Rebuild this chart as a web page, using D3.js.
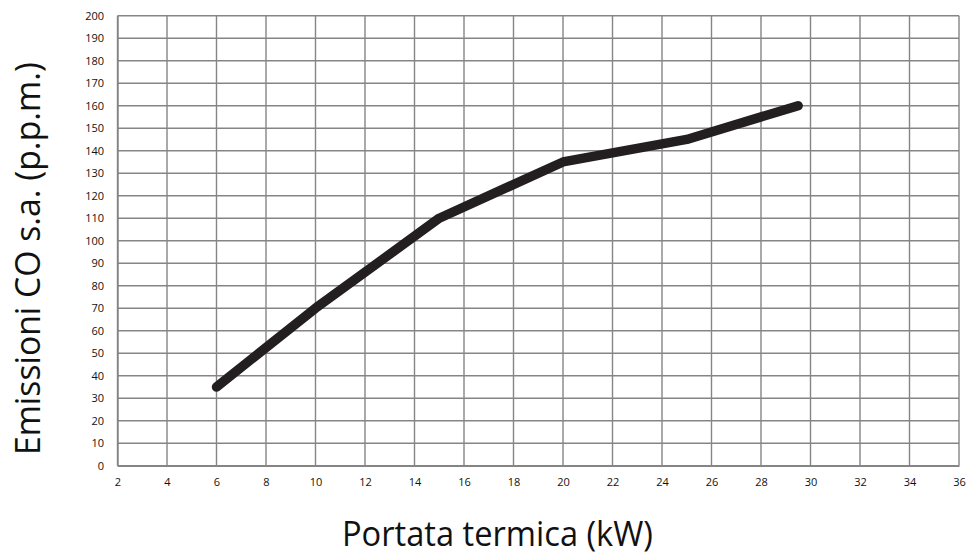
<!DOCTYPE html>
<html>
<head>
<meta charset="utf-8">
<script src="https://cdn.jsdelivr.net/npm/d3@7"></script>
<style>
  html, body { margin: 0; padding: 0; background: #fff; }
  svg { display: block; }
  text { font-family: "Open Sans", "Noto Sans", sans-serif; fill: #111; }
</style>
</head>
<body>
<svg id="chart" width="967" height="556"></svg>
<script>
// CO emissions versus thermal output
const portata = [6, 10, 15, 20, 25, 29.5];
const emissioni = [35, 70, 110, 135, 145, 160];
const xTicks = [2, 4, 6, 8, 10, 12, 14, 16, 18, 20, 22, 24, 26, 28, 30, 32, 34, 36];
const yTicks = [0, 10, 20, 30, 40, 50, 60, 70, 80, 90, 100, 110, 120, 130, 140, 150, 160, 170, 180, 190, 200];
const xTitle = "Portata termica (kW)";
const yTitle = "Emissioni CO s.a. (p.p.m.)";

const svg = d3.select("#chart");
const m = { left: 117.5, right: 959, top: 15.7, bottom: 465.7 };

const x = d3.scaleLinear().domain([2, 36]).range([m.left, m.right]);
const y = d3.scaleLinear().domain([0, 200]).range([m.bottom, m.top]);

// grid
const grid = svg.append("g").attr("stroke", "#858585").attr("stroke-width", 1.4);
grid.selectAll("line.v").data(xTicks).join("line")
  .attr("x1", d => x(d)).attr("x2", d => x(d))
  .attr("y1", m.top).attr("y2", m.bottom);
grid.selectAll("line.h").data(yTicks).join("line")
  .attr("y1", d => y(d)).attr("y2", d => y(d))
  .attr("x1", m.left).attr("x2", m.right);

// axes (labels only; grid draws the rules)
const xAxis = svg.append("g")
  .attr("transform", `translate(0,${m.bottom})`)
  .call(d3.axisBottom(x).tickValues(xTicks).tickSize(0).tickPadding(13));
const yAxis = svg.append("g")
  .attr("transform", `translate(${m.left},0)`)
  .call(d3.axisLeft(y).tickValues(yTicks).tickSize(0).tickPadding(13.5));
[xAxis, yAxis].forEach(a => {
  a.select(".domain").attr("stroke", "#858585").attr("stroke-width", 1.4);
  a.selectAll("text").style("font-size", "11px").attr("fill", "#111");
});

// data line
const line = d3.line().x((d, i) => x(portata[i])).y(d => y(d));
svg.append("path")
  .datum(emissioni)
  .attr("d", line)
  .attr("fill", "none")
  .attr("stroke", "#231f20")
  .attr("stroke-width", 9.5)
  .attr("stroke-linecap", "round")
  .attr("stroke-linejoin", "round");

// titles
svg.append("text")
  .attr("x", 497.5).attr("y", 546)
  .attr("text-anchor", "middle")
  .attr("textLength", 311)
  .attr("lengthAdjust", "spacingAndGlyphs")
  .style("font-size", "35px")
  .text(xTitle);
svg.append("text")
  .attr("transform", `translate(40,258.5) rotate(-90)`)
  .attr("text-anchor", "middle")
  .attr("textLength", 393)
  .attr("lengthAdjust", "spacingAndGlyphs")
  .style("font-size", "35px")
  .text(yTitle);
</script>
</body>
</html>
